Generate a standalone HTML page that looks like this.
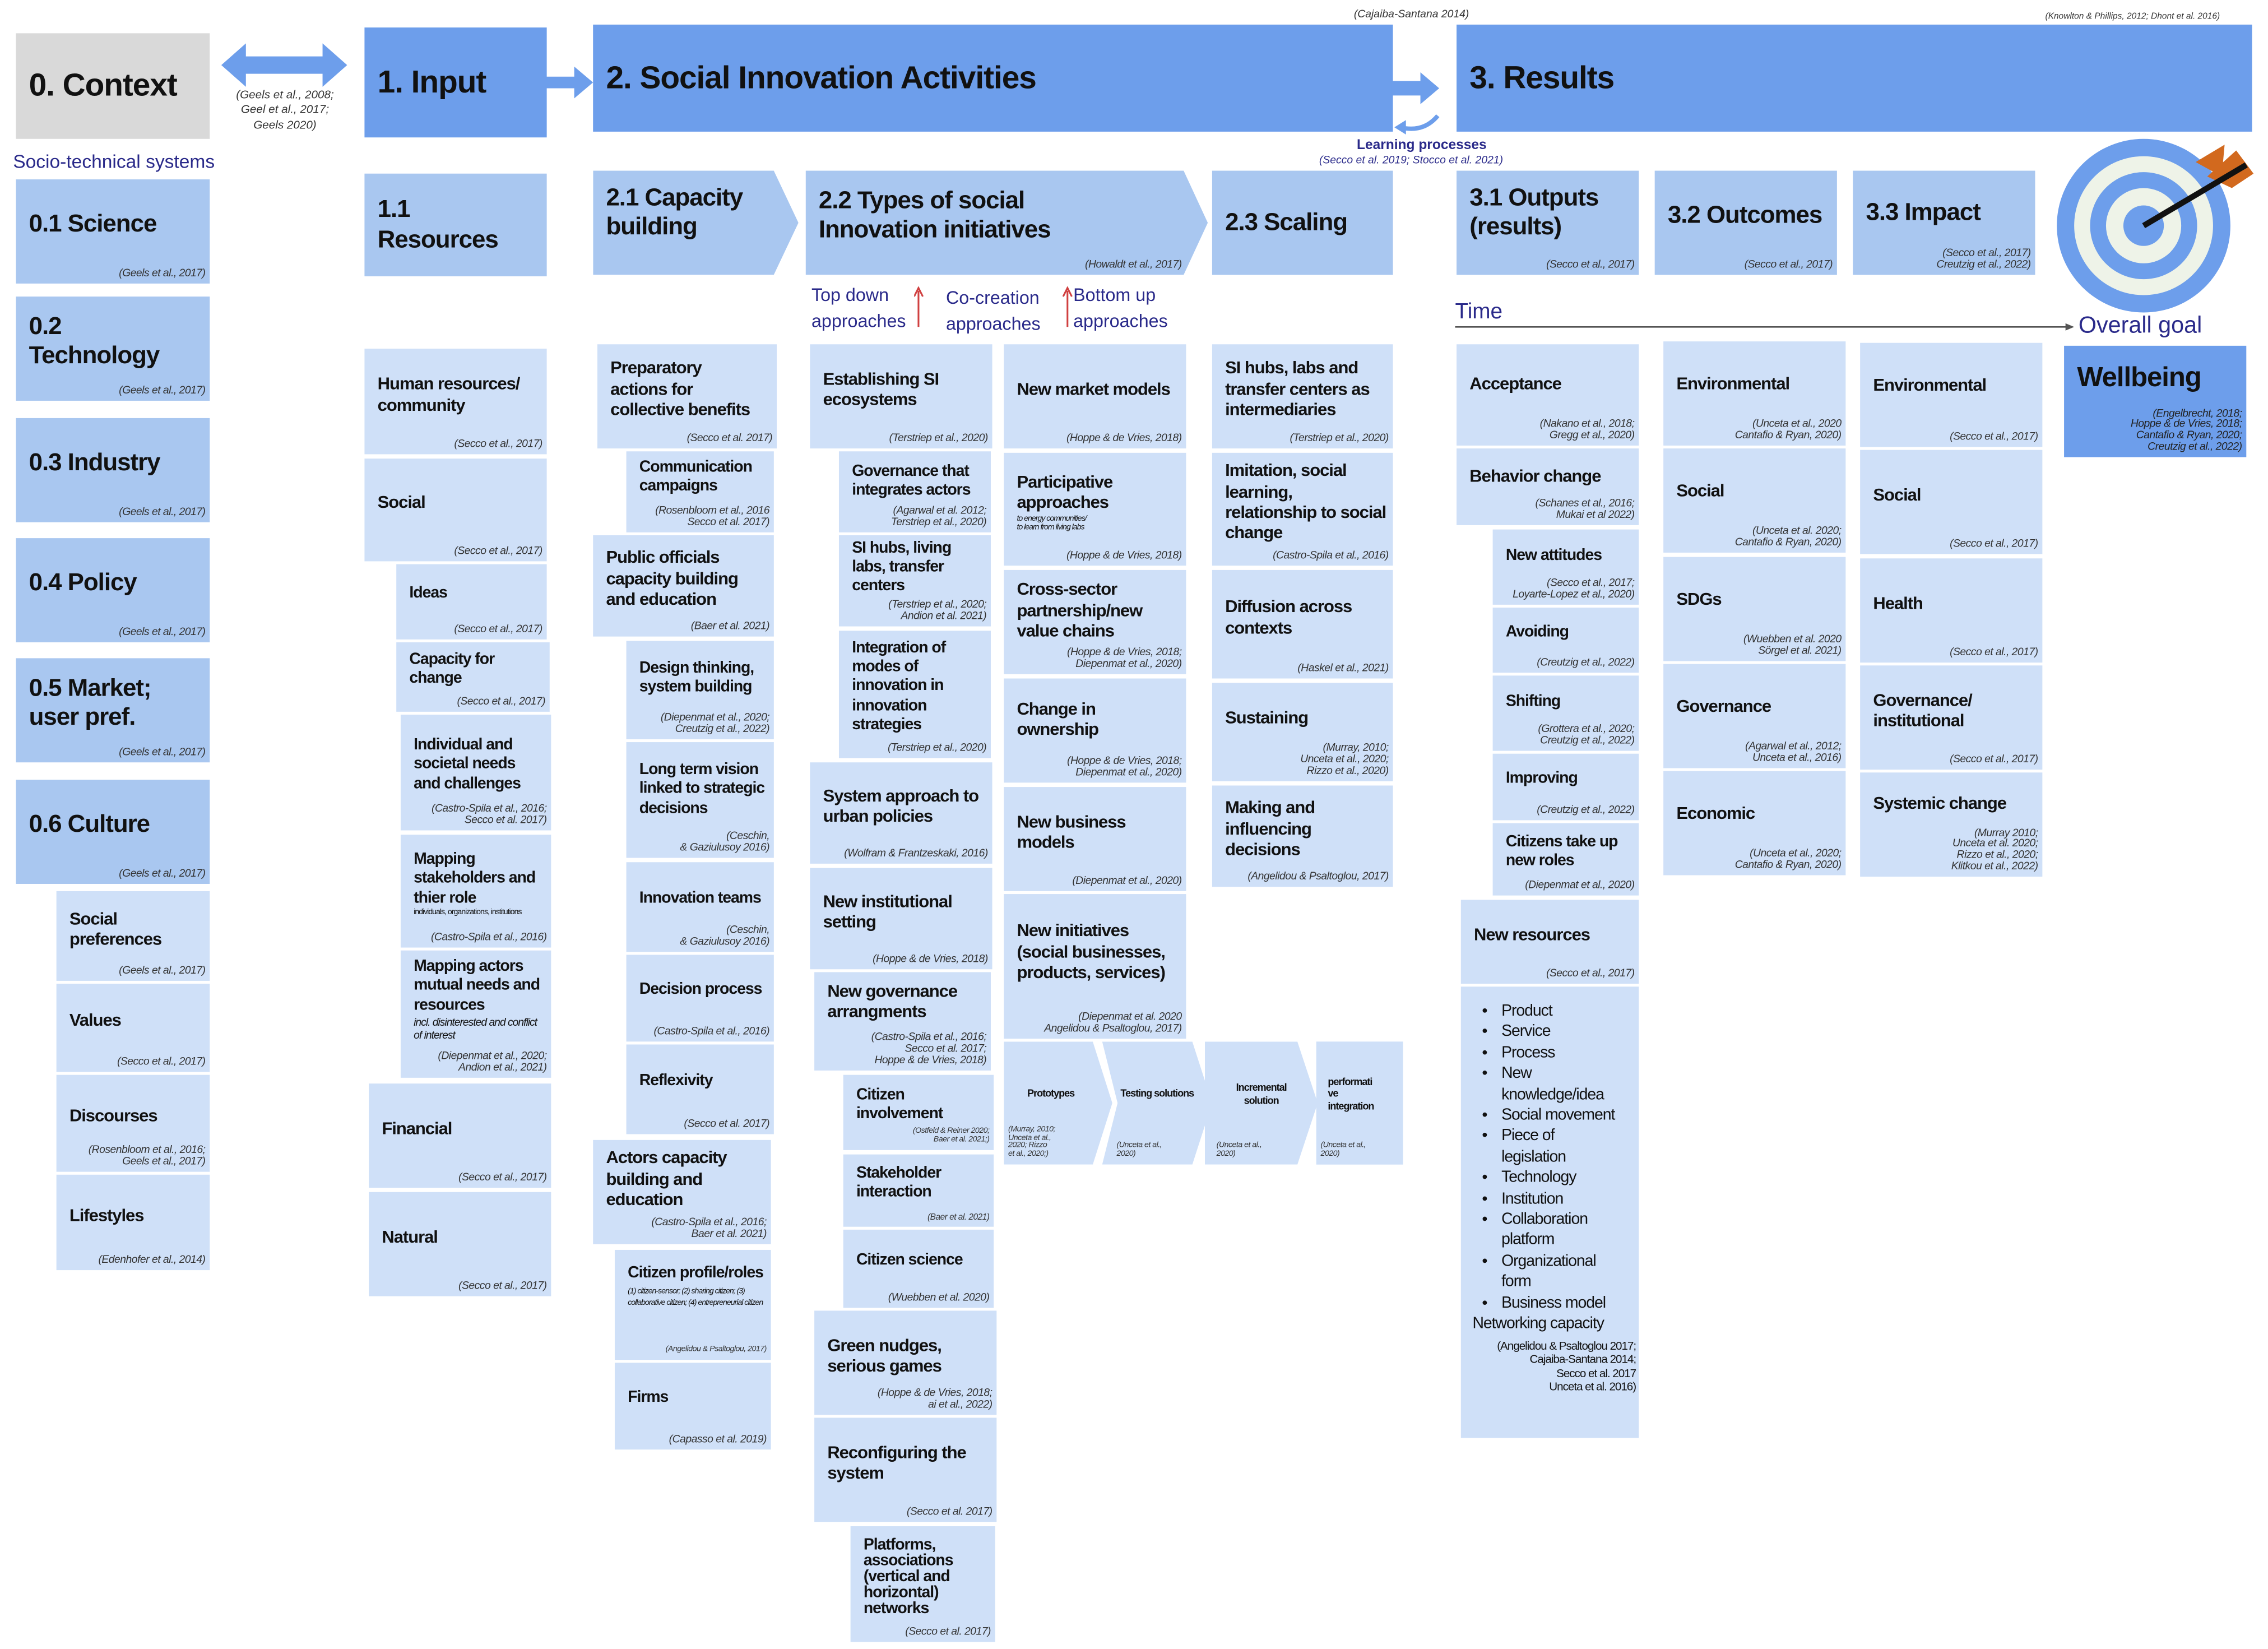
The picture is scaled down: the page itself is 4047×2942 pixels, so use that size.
<!DOCTYPE html>
<html><head><meta charset="utf-8">
<style>
html,body{margin:0;padding:0;background:#fff;}
body{width:4047px;height:2941px;overflow:hidden;position:relative;}
#c{position:absolute;left:0;top:0;width:1568px;height:1140px;transform:scale(2.581);transform-origin:0 0;font-family:"Liberation Sans Narrow","Liberation Sans",sans-serif;color:#111;}
.b{position:absolute;box-sizing:border-box;padding:0 4px 10px 9px;display:flex;flex-direction:column;justify-content:center;font-weight:bold;font-size:12px;line-height:1.2;letter-spacing:-0.4px;}
.h{background:#6d9eeb;}
.m{background:#a9c7f0;}
.l{background:#cfe0f8;}
.g{background:#d9d9d9;}
.b i{position:absolute;right:3px;bottom:3px;font-weight:normal;font-size:7.5px;line-height:1.05;text-align:right;color:#333;letter-spacing:-0.2px;}
.big{font-size:22px;}
.sec{font-size:17px;}
.sm{font-weight:normal;font-size:5.5px;line-height:1.1;}
.t{position:absolute;white-space:nowrap;}
.cite{font-style:italic;font-size:7.5px;color:#333;}
.blue{color:#1f1f8f;}
ul{margin:0;padding-left:22px;font-weight:normal;font-size:11px;line-height:1.31;}
</style></head><body><div id="c">

<!-- headers -->
<div class="b g big" style="left:11px;top:23px;width:134px;height:73px;padding-bottom:0">0. Context</div>
<svg class="t" style="left:150px;top:28px" width="95" height="34"><polygon points="3,17 20,2 20,11 73,11 73,2 90,17 73,32 73,23 20,23 20,32" fill="#6d9eeb"/></svg>
<div class="t cite" style="left:160px;top:61px;width:74px;text-align:center;white-space:normal;line-height:1.3;font-size:8px">(Geels et al., 2008; Geel et al., 2017; Geels 2020)</div>
<div class="t blue" style="left:9px;top:104px;font-size:13px;color:#2a2a8a">Socio-technical systems</div>

<div class="b h big" style="left:252px;top:19px;width:126px;height:76px;padding-bottom:0">1. Input</div>
<svg class="t" style="left:377px;top:46px" width="34" height="22"><polygon points="0,7 20,7 20,0 33,11 20,22 20,15 0,15" fill="#6d9eeb"/></svg>
<div class="b h big" style="left:410px;top:17px;width:553px;height:74px;padding-bottom:0">2. Social Innovation Activities</div>
<div class="t cite" style="left:936px;top:5px">(Cajaiba-Santana 2014)</div>
<svg class="t" style="left:962px;top:50px" width="34" height="46"><polygon points="0,6 20,6 20,0 33,11 20,22 20,16 0,16" fill="#6d9eeb"/><path d="M32,30 Q22,42 6,38" stroke="#6d9eeb" stroke-width="3" fill="none"/><polygon points="2,38 10,33 10,43" fill="#6d9eeb"/></svg>
<div class="t" style="left:938px;top:95px;font-size:9.5px;font-weight:bold;color:#2a2a8a">Learning processes</div>
<div class="t cite" style="left:912px;top:106px;color:#2a2a8a">(Secco et al. 2019; Stocco et al. 2021)</div>
<div class="b h big" style="left:1007px;top:17px;width:550px;height:74px;padding-bottom:0">3. Results</div>
<div class="t cite" style="left:1414px;top:9px;font-size:6px">(Knowlton &amp; Phillips, 2012; Dhont et al. 2016)</div>

<!-- column 0 -->
<div class="b m sec" style="left:11px;top:124px;width:134px;height:72px">0.1 Science<i>(Geels et al., 2017)</i></div>
<div class="b m sec" style="left:11px;top:205px;width:134px;height:72px">0.2<br>Technology<i>(Geels et al., 2017)</i></div>
<div class="b m sec" style="left:11px;top:289px;width:134px;height:72px">0.3 Industry<i>(Geels et al., 2017)</i></div>
<div class="b m sec" style="left:11px;top:372px;width:134px;height:72px">0.4 Policy<i>(Geels et al., 2017)</i></div>
<div class="b m sec" style="left:11px;top:455px;width:134px;height:72px">0.5 Market;<br>user pref.<i>(Geels et al., 2017)</i></div>
<div class="b m sec" style="left:11px;top:539px;width:134px;height:72px">0.6 Culture<i>(Geels et al., 2017)</i></div>
<div class="b l" style="left:39px;top:616px;width:106px;height:62px">Social preferences<i>(Geels et al., 2017)</i></div>
<div class="b l" style="left:39px;top:680px;width:106px;height:61px">Values<i>(Secco et al., 2017)</i></div>
<div class="b l" style="left:39px;top:743px;width:106px;height:67px">Discourses<i>(Rosenbloom et al., 2016;<br>Geels et al., 2017)</i></div>
<div class="b l" style="left:39px;top:812px;width:106px;height:66px">Lifestyles<i>(Edenhofer et al., 2014)</i></div>

<!-- column 1 -->
<div class="b m sec" style="left:252px;top:120px;width:126px;height:71px;padding-bottom:0">1.1<br>Resources</div>
<div class="b l" style="left:252px;top:241px;width:126px;height:73px">Human resources/<br>community<i>(Secco et al., 2017)</i></div>
<div class="b l" style="left:252px;top:317px;width:126px;height:71px">Social<i>(Secco et al., 2017)</i></div>
<div class="b l" style="left:274px;top:390px;width:104px;height:52px;font-size:11px">Ideas<i>(Secco et al., 2017)</i></div>
<div class="b l" style="left:274px;top:444px;width:106px;height:48px;font-size:11px">Capacity for change<i>(Secco et al., 2017)</i></div>
<div class="b l" style="left:277px;top:494px;width:104px;height:80px;font-size:11px">Individual and societal needs and challenges<i>(Castro-Spila et al., 2016;<br>Secco et al. 2017)</i></div>
<div class="b l" style="left:277px;top:577px;width:104px;height:78px;font-size:11px">Mapping stakeholders and thier role<span class="sm">individuals, organizations, institutions</span><i>(Castro-Spila et al., 2016)</i></div>
<div class="b l" style="left:277px;top:657px;width:104px;height:88px;font-size:11px;padding-bottom:20px">Mapping actors mutual needs and resources<span style="font-weight:normal;font-style:italic;font-size:7.5px">incl. disinterested and conflict of interest</span><i>(Diepenmat et al., 2020;<br>Andion et al., 2021)</i></div>
<div class="b l" style="left:255px;top:749px;width:126px;height:72px">Financial<i>(Secco et al., 2017)</i></div>
<div class="b l" style="left:255px;top:824px;width:126px;height:72px">Natural<i>(Secco et al., 2017)</i></div>

<!-- 2.x headers -->
<div class="b m sec" style="left:410px;top:118px;width:142px;height:72px;clip-path:polygon(0 0,88% 0,100% 50%,88% 100%,0 100%);padding-bottom:14px">2.1 Capacity<br>building</div>
<div class="b m sec" style="left:557px;top:118px;width:278px;height:72px;clip-path:polygon(0 0,94% 0,100% 50%,94% 100%,0 100%)">2.2 Types of social<br>Innovation initiatives<i style="right:18px">(Howaldt et al., 2017)</i></div>
<div class="b m sec" style="left:838px;top:118px;width:125px;height:72px;padding-bottom:0">2.3 Scaling</div>
<div class="t" style="left:561px;top:195px;font-size:12.5px;color:#2a2a8a;line-height:1.45">Top down<br>approaches</div>
<div class="t" style="left:654px;top:197px;font-size:12.5px;color:#2a2a8a;line-height:1.45">Co-creation<br>approaches</div>
<div class="t" style="left:742px;top:195px;font-size:12.5px;color:#2a2a8a;line-height:1.45">Bottom up<br>approaches</div>
<svg class="t" style="left:632px;top:198px" width="110" height="30"><path d="M3,28 V3 M0,7 L3,1 L6,7" stroke="#d04040" stroke-width="1.2" fill="none"/><path d="M106,28 V3 M103,7 L106,1 L109,7" stroke="#d04040" stroke-width="1.2" fill="none"/></svg>

<!-- 2.1 items -->
<div class="b l" style="left:413px;top:238px;width:124px;height:72px;padding-right:14px">Preparatory actions for collective benefits<i>(Secco et al. 2017)</i></div>
<div class="b l" style="left:433px;top:312px;width:102px;height:56px;font-size:11px;padding-bottom:20px">Communication campaigns<i>(Rosenbloom et al., 2016<br>Secco et al. 2017)</i></div>
<div class="b l" style="left:410px;top:370px;width:125px;height:70px">Public officials capacity building and education<i>(Baer et al. 2021)</i></div>
<div class="b l" style="left:433px;top:443px;width:102px;height:68px;font-size:11px;padding-bottom:16px">Design thinking, system building<i>(Diepenmat et al., 2020;<br>Creutzig et al., 2022)</i></div>
<div class="b l" style="left:433px;top:513px;width:102px;height:80px;font-size:11px;padding-bottom:14px">Long term vision linked to strategic decisions<i>(Ceschin,<br>&amp; Gaziulusoy 2016)</i></div>
<div class="b l" style="left:433px;top:596px;width:102px;height:62px;font-size:11px">Innovation teams<i>(Ceschin,<br>&amp; Gaziulusoy 2016)</i></div>
<div class="b l" style="left:433px;top:660px;width:102px;height:60px;font-size:11px">Decision process<i>(Castro-Spila et al., 2016)</i></div>
<div class="b l" style="left:433px;top:722px;width:102px;height:62px;font-size:11px">Reflexivity<i>(Secco et al. 2017)</i></div>
<div class="b l" style="left:410px;top:788px;width:123px;height:72px;padding-bottom:18px">Actors capacity building and education<i>(Castro-Spila et al., 2016;<br>Baer et al. 2021)</i></div>
<div class="b l" style="left:425px;top:864px;width:108px;height:76px;font-size:11px;justify-content:flex-start;padding-top:10px">Citizen profile/roles<span style="font-weight:normal;font-style:italic;font-size:5.5px;line-height:1.35;margin-top:3px">(1) citizen-sensor; (2) sharing citizen; (3) collaborative citizen; (4) entrepreneurial citizen</span><i style="font-size:5.5px">(Angelidou &amp; Psaltoglou, 2017)</i></div>
<div class="b l" style="left:425px;top:942px;width:108px;height:60px;font-size:11px">Firms<i>(Capasso et al. 2019)</i></div>

<!-- 2.2 col a -->
<div class="b l" style="left:560px;top:238px;width:126px;height:72px">Establishing SI ecosystems<i>(Terstriep et al., 2020)</i></div>
<div class="b l" style="left:580px;top:312px;width:105px;height:56px;font-size:11px;padding-bottom:14px">Governance that integrates actors<i>(Agarwal et al. 2012;<br>Terstriep et al., 2020)</i></div>
<div class="b l" style="left:580px;top:370px;width:105px;height:63px;font-size:11px;padding-bottom:18px">SI hubs, living labs, transfer centers<i>(Terstriep et al., 2020;<br>Andion et al. 2021)</i></div>
<div class="b l" style="left:580px;top:436px;width:105px;height:88px;font-size:11px">Integration of modes of innovation in innovation strategies<i>(Terstriep et al., 2020)</i></div>
<div class="b l" style="left:560px;top:527px;width:126px;height:70px">System approach to urban policies<i>(Wolfram &amp; Frantzeskaki, 2016)</i></div>
<div class="b l" style="left:560px;top:600px;width:126px;height:70px">New institutional setting<i>(Hoppe &amp; de Vries, 2018)</i></div>
<div class="b l" style="left:563px;top:672px;width:122px;height:68px;padding-bottom:28px">New governance arrangments<i>(Castro-Spila et al., 2016;<br>Secco et al. 2017;<br>Hoppe &amp; de Vries, 2018)</i></div>
<div class="b l" style="left:583px;top:743px;width:104px;height:52px;font-size:11px">Citizen involvement<i style="font-size:5.5px">(Ostfeld &amp; Reiner 2020;<br>Baer et al. 2021;)</i></div>
<div class="b l" style="left:583px;top:798px;width:104px;height:50px;font-size:11px">Stakeholder interaction<i style="font-size:6px">(Baer et al. 2021)</i></div>
<div class="b l" style="left:583px;top:850px;width:104px;height:54px;font-size:11px">Citizen science<i>(Wuebben et al. 2020)</i></div>
<div class="b l" style="left:563px;top:906px;width:126px;height:72px">Green nudges, serious games<i>(Hoppe &amp; de Vries, 2018;<br>ai et al., 2022)</i></div>
<div class="b l" style="left:563px;top:980px;width:126px;height:72px">Reconfiguring the system<i>(Secco et al. 2017)</i></div>
<div class="b l" style="left:588px;top:1055px;width:100px;height:80px;font-size:11px;line-height:1.0">Platforms, associations (vertical and horizontal) networks<i>(Secco et al. 2017)</i></div>

<!-- 2.2 col b -->
<div class="b l" style="left:694px;top:238px;width:126px;height:72px">New market models<i>(Hoppe &amp; de Vries, 2018)</i></div>
<div class="b l" style="left:694px;top:313px;width:126px;height:78px">Participative approaches<span class="sm" style="font-style:italic;margin-top:2px">to energy communities/<br>to learn from living labs</span><i>(Hoppe &amp; de Vries, 2018)</i></div>
<div class="b l" style="left:694px;top:394px;width:126px;height:72px;padding-bottom:16px">Cross-sector partnership/new value chains<i>(Hoppe &amp; de Vries, 2018;<br>Diepenmat et al., 2020)</i></div>
<div class="b l" style="left:694px;top:469px;width:126px;height:72px;padding-bottom:16px">Change in ownership<i>(Hoppe &amp; de Vries, 2018;<br>Diepenmat et al., 2020)</i></div>
<div class="b l" style="left:694px;top:544px;width:126px;height:72px">New business models<i>(Diepenmat et al., 2020)</i></div>
<div class="b l" style="left:694px;top:618px;width:126px;height:100px;padding-bottom:20px">New initiatives (social businesses, products, services)<i>(Diepenmat et al. 2020<br>Angelidou &amp; Psaltoglou, 2017)</i></div>
<div class="b l" style="left:694px;top:720px;width:75px;height:85px;font-size:7px;padding-left:4px;align-items:center;padding-right:14px;clip-path:polygon(0 0,82% 0,100% 50%,82% 100%,0 100%)">Prototypes<i style="right:auto;left:3px;text-align:left;font-size:5.5px">(Murray, 2010;<br>Unceta et al.,<br>2020; Rizzo<br>et al., 2020;)</i></div>
<div class="b l" style="left:762px;top:720px;width:76px;height:85px;font-size:7px;align-items:center;text-align:center;padding-left:12px;padding-right:12px;clip-path:polygon(0 0,82% 0,100% 50%,82% 100%,0 100%,14% 50%)">Testing solutions<i style="right:auto;left:10px;text-align:left;font-size:5.5px">(Unceta et al.,<br>2020)</i></div>
<div class="b l" style="left:833px;top:720px;width:78px;height:85px;font-size:7px;align-items:center;text-align:center;padding-left:12px;padding-right:12px;clip-path:polygon(0 0,82% 0,100% 50%,82% 100%,0 100%,0 0)">Incremental solution<i style="right:auto;left:8px;text-align:left;font-size:5.5px">(Unceta et al.,<br>2020)</i></div>
<div class="b l" style="left:910px;top:720px;width:60px;height:85px;font-size:7px;padding-left:8px">performati<br>ve<br>integration<i style="right:auto;left:3px;text-align:left;font-size:5.5px">(Unceta et al.,<br>2020)</i></div>

<!-- 2.3 -->
<div class="b l" style="left:838px;top:238px;width:125px;height:72px">SI hubs, labs and transfer centers as intermediaries<i>(Terstriep et al., 2020)</i></div>
<div class="b l" style="left:838px;top:313px;width:125px;height:78px">Imitation, social learning, relationship to social change<i>(Castro-Spila et al., 2016)</i></div>
<div class="b l" style="left:838px;top:394px;width:125px;height:75px">Diffusion across contexts<i>(Haskel et al., 2021)</i></div>
<div class="b l" style="left:838px;top:472px;width:125px;height:68px;padding-bottom:20px">Sustaining<i>(Murray, 2010;<br>Unceta et al., 2020;<br>Rizzo et al., 2020)</i></div>
<div class="b l" style="left:838px;top:543px;width:125px;height:70px">Making and influencing decisions<i>(Angelidou &amp; Psaltoglou, 2017)</i></div>

<!-- 3.x headers -->
<div class="b m sec" style="left:1007px;top:118px;width:126px;height:72px;padding-bottom:14px">3.1 Outputs<br>(results)<i>(Secco et al., 2017)</i></div>
<div class="b m sec" style="left:1144px;top:118px;width:126px;height:72px">3.2 Outcomes<i>(Secco et al., 2017)</i></div>
<div class="b m sec" style="left:1281px;top:118px;width:126px;height:72px;padding-bottom:14px">3.3 Impact<i>(Secco et al., 2017)<br>Creutzig et al., 2022)</i></div>
<svg class="t" style="left:1418px;top:92px" width="145" height="130">
<circle cx="64" cy="64" r="60" fill="#6d9eeb"/><circle cx="64" cy="64" r="48" fill="#eef3e8"/><circle cx="64" cy="64" r="37" fill="#6d9eeb"/><circle cx="64" cy="64" r="26" fill="#eef3e8"/><circle cx="64" cy="64" r="14" fill="#6d9eeb"/>
<polygon points="108,30 128,12 140,28 125,38" fill="#d2691e"/><polygon points="100,20 120,8 118,30" fill="#d2691e"/>
<line x1="64" y1="64" x2="135" y2="22" stroke="#111" stroke-width="4"/>
</svg>
<div class="t" style="left:1006px;top:207px;font-size:15px;color:#2a2a8a">Time</div>
<svg class="t" style="left:1006px;top:222px" width="430" height="8"><line x1="0" y1="4" x2="424" y2="4" stroke="#555" stroke-width="1"/><polygon points="428,4 422,1.5 422,6.5" fill="#555"/></svg>
<div class="t" style="left:1437px;top:217px;font-size:16px;color:#2a2a8a">Overall goal</div>
<div class="b h" style="left:1427px;top:239px;width:126px;height:77px;font-size:19px;justify-content:flex-start;padding-top:12px">Wellbeing<i style="color:#222">(Engelbrecht, 2018;<br>Hoppe &amp; de Vries, 2018;<br>Cantafio &amp; Ryan, 2020;<br>Creutzig et al., 2022)</i></div>

<!-- 3.1 items -->
<div class="b l" style="left:1007px;top:238px;width:126px;height:70px;padding-bottom:16px">Acceptance<i>(Nakano et al., 2018;<br>Gregg et al., 2020)</i></div>
<div class="b l" style="left:1007px;top:310px;width:126px;height:53px;padding-bottom:14px">Behavior change<i>(Schanes et al., 2016;<br>Mukai et al 2022)</i></div>
<div class="b l" style="left:1032px;top:366px;width:101px;height:52px;font-size:11px;padding-bottom:14px">New attitudes<i>(Secco et al., 2017;<br>Loyarte-Lopez et al., 2020)</i></div>
<div class="b l" style="left:1032px;top:420px;width:101px;height:45px;font-size:11px">Avoiding<i>(Creutzig et al., 2022)</i></div>
<div class="b l" style="left:1032px;top:467px;width:101px;height:52px;font-size:11px;padding-bottom:14px">Shifting<i>(Grottera et al., 2020;<br>Creutzig et al., 2022)</i></div>
<div class="b l" style="left:1032px;top:521px;width:101px;height:46px;font-size:11px">Improving<i>(Creutzig et al., 2022)</i></div>
<div class="b l" style="left:1032px;top:569px;width:101px;height:50px;font-size:11px">Citizens take up new roles<i>(Diepenmat et al., 2020)</i></div>
<div class="b l" style="left:1010px;top:622px;width:123px;height:58px">New resources<i>(Secco et al., 2017)</i></div>
<div class="b l" style="left:1010px;top:682px;width:123px;height:312px;justify-content:flex-start;padding:10px 16px 0 6px;font-weight:normal">
<ul><li>Product</li><li>Service</li><li>Process</li><li>New knowledge/idea</li><li>Social movement</li><li>Piece of legislation</li><li>Technology</li><li>Institution</li><li>Collaboration platform</li><li>Organizational form</li><li>Business model</li></ul>
<div style="font-size:11px;margin-top:1px;margin-left:2px;white-space:nowrap">Networking capacity</div>
<div style="font-size:8px;text-align:right;margin-top:4px;margin-right:-14px;line-height:1.15">(Angelidou &amp; Psaltoglou 2017;<br>Cajaiba-Santana 2014;<br>Secco et al. 2017<br>Unceta et al. 2016)</div>
</div>

<!-- 3.2 -->
<div class="b l" style="left:1150px;top:236px;width:126px;height:72px;padding-bottom:14px">Environmental<i>(Unceta et al., 2020<br>Cantafio &amp; Ryan, 2020)</i></div>
<div class="b l" style="left:1150px;top:310px;width:126px;height:72px;padding-bottom:14px">Social<i>(Unceta et al. 2020;<br>Cantafio &amp; Ryan, 2020)</i></div>
<div class="b l" style="left:1150px;top:385px;width:126px;height:72px;padding-bottom:14px">SDGs<i>(Wuebben et al. 2020<br>Sörgel et al. 2021)</i></div>
<div class="b l" style="left:1150px;top:459px;width:126px;height:72px;padding-bottom:14px">Governance<i>(Agarwal et al., 2012;<br>Unceta et al., 2016)</i></div>
<div class="b l" style="left:1150px;top:533px;width:126px;height:72px;padding-bottom:14px">Economic<i>(Unceta et al., 2020;<br>Cantafio &amp; Ryan, 2020)</i></div>

<!-- 3.3 -->
<div class="b l" style="left:1286px;top:237px;width:126px;height:72px;padding-bottom:14px">Environmental<i>(Secco et al., 2017)</i></div>
<div class="b l" style="left:1286px;top:311px;width:126px;height:72px">Social<i>(Secco et al., 2017)</i></div>
<div class="b l" style="left:1286px;top:386px;width:126px;height:72px">Health<i>(Secco et al., 2017)</i></div>
<div class="b l" style="left:1286px;top:460px;width:126px;height:72px">Governance/<br>institutional<i>(Secco et al., 2017)</i></div>
<div class="b l" style="left:1286px;top:534px;width:126px;height:72px;padding-bottom:30px">Systemic change<i>(Murray 2010;<br>Unceta et al. 2020;<br>Rizzo et al., 2020;<br>Klitkou et al., 2022)</i></div>

</div></body></html>
